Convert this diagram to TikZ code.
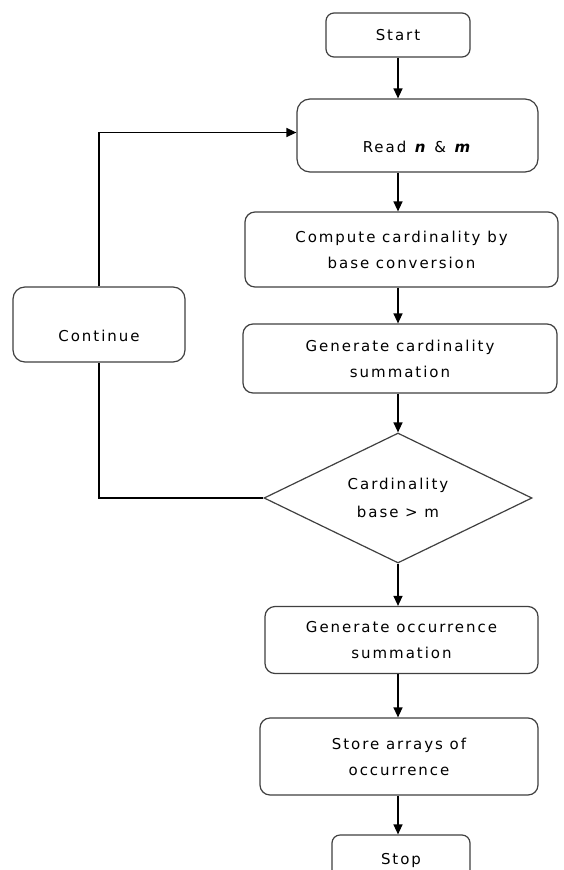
\documentclass[tikz,border=0pt]{standalone}
\usepackage{fontspec}
\setmainfont{DejaVu Sans}[LetterSpace=13]
\usetikzlibrary{shapes.geometric,arrows.meta,calc}
\begin{document}
\begin{tikzpicture}[x=1pt,y=-1pt,
  txt/.style={font=\fontsize{15}{26}\selectfont},
  box/.style={draw=black!75,line width=1.2pt,rounded corners=10pt,align=center,
    txt,inner sep=0pt},
  dec/.style={draw=black!75,line width=1.2pt,diamond,inner sep=0pt},
  arr/.style={line width=1.3pt,-{Triangle[length=10pt,width=9pt]}},
  ln/.style={line width=1.3pt}]
\clip (0,0) rectangle (563,870);
\fill[white] (0,0) rectangle (563,870);
\node[box,minimum width=144pt,minimum height=44pt,rounded corners=8pt] (start) at (398,35) {Start};
\node[box,minimum width=241pt,minimum height=73pt,rounded corners=13pt,
  label={[yshift=-11pt,txt]center:Read \textbf{\textit{n}} \& \textbf{\textit{m}}}] (read) at (417.5,135.5) {};
\node[box,minimum width=313pt,minimum height=75pt] (comp) at (401.5,249.5) {Compute cardinality by\\base conversion};
\node[box,minimum width=314pt,minimum height=69pt] (gcard) at (400,358.5) {\raisebox{-4pt}{\parbox{300pt}{\centering Generate cardinality\\summation}}};
\node[box,minimum width=172pt,minimum height=75pt,rounded corners=12pt,
  label={[yshift=-11pt,txt]center:Continue}] (cont) at (99,324.5) {};
\node[dec,minimum width=268pt,minimum height=130pt,
  label={[align=center,font=\fontsize{15}{28}\selectfont]center:Cardinality\\base > m}] (dia) at (398,498) {};
\node[box,minimum width=273pt,minimum height=67pt] (gocc) at (401.5,640) {Generate occurrence\\summation};
\node[box,minimum width=278pt,minimum height=77pt] (store) at (399,756.5) {Store arrays of\\occurrence};
\node[box,minimum width=138pt,minimum height=50pt,rounded corners=8pt] (stop) at (401,860) {\raisebox{3pt}{Stop}};
\coordinate (mx) at (398,0);
\draw[arr] (start.south -| mx) -- (read.north -| mx);
\draw[arr] (read.south -| mx) -- (comp.north -| mx);
\draw[arr] (comp.south -| mx) -- (gcard.north -| mx);
\draw[arr] (gcard.south -| mx) -- (dia.north);
\draw[arr] (dia.south) -- (gocc.north -| mx);
\draw[arr] (gocc.south -| mx) -- (store.north -| mx);
\draw[arr] (store.south -| mx) -- (stop.north -| mx);
\draw[arr] (cont.north) |- ($(read.west)+(0,-3)$);
\draw[ln] (cont.south) |- (dia.west);
\end{tikzpicture}
\end{document}
